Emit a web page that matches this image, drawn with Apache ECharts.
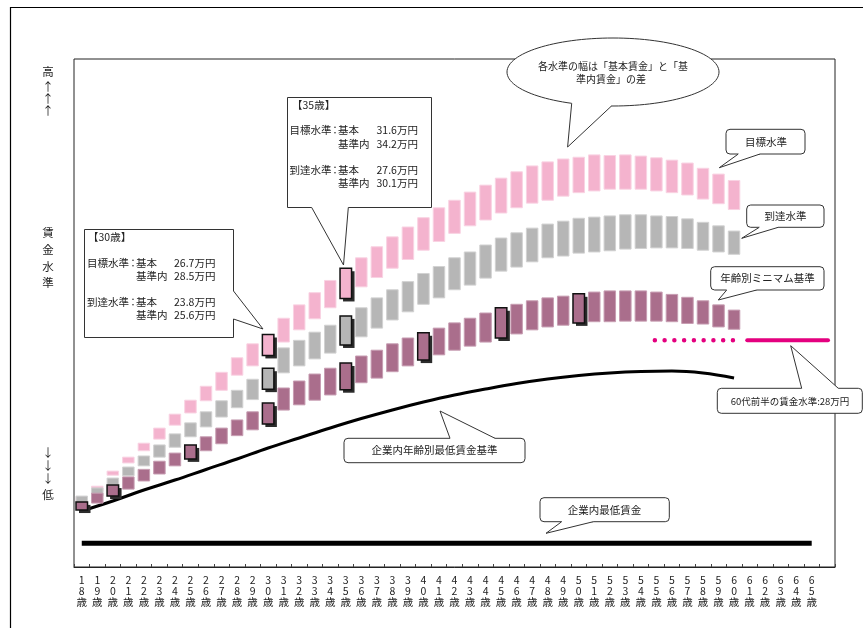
<!DOCTYPE html>
<html>
<head>
<meta charset="utf-8">
<script src="https://cdn.jsdelivr.net/npm/echarts@6/dist/echarts.min.js"></script>
<style>
html, body { margin: 0; padding: 0; background: #fff; }
#chart { width: 863px; height: 628px; }
</style>
</head>
<body>
<div id="chart"></div>
<script>
// Age categories (last slot left blank on purpose)
const categories = ['18歳','19歳','20歳','21歳','22歳','23歳','24歳','25歳','26歳','27歳',
  '28歳','29歳','30歳','31歳','32歳','33歳','34歳','35歳','36歳','37歳','38歳','39歳',
  '40歳','41歳','42歳','43歳','44歳','45歳','46歳','47歳','48歳','49歳','50歳','51歳',
  '52歳','53歳','54歳','55歳','56歳','57歳','58歳','59歳','60歳','61歳','62歳','63歳',
  '64歳','65歳',''];

// 目標水準 (万円): 基本賃金 / 基準内賃金, ages 18-60
const targetBase = [14.0,15.0,16.4,17.45,18.5,19.5,20.7,21.75,22.8,23.7,25.0,25.8,26.7,27.85,
  28.9,29.85,30.8,31.6,32.6,33.4,34.2,34.95,35.75,36.5,37.2,37.85,38.35,38.95,39.4,39.8,
  40.05,40.4,40.7,40.85,41.0,41.0,41.0,40.85,40.7,40.5,40.15,39.75,39.25];
const targetTotal = [14.5,15.45,16.75,17.95,19.15,20.45,21.65,22.85,24.05,25.25,26.5,27.7,28.5,
  29.9,31.05,32.1,33.15,34.2,35.1,36.05,36.9,37.75,38.55,39.4,40.05,40.75,41.35,41.95,42.5,
  43.0,43.35,43.6,43.75,43.95,43.9,43.95,43.85,43.7,43.5,43.25,42.8,42.3,41.75];

// 到達水準 (万円)
const reachBase = [13.9,14.6,15.6,16.35,17.2,17.95,18.8,19.7,20.55,21.4,22.2,22.9,23.8,25.2,
  25.8,26.4,26.9,27.6,28.3,29.05,29.75,30.45,31.1,31.65,32.35,32.75,33.35,33.95,34.3,34.75,
  35.1,35.25,35.5,35.6,35.7,35.85,35.9,35.95,35.95,35.9,35.75,35.6,35.4];
const reachTotal = [14.6,15.3,16.15,17.1,18.05,19.0,19.95,20.9,21.85,22.8,23.7,24.65,25.6,27.35,
  28.0,28.7,29.3,30.1,30.8,31.65,32.35,33.05,33.75,34.35,35.1,35.6,36.2,36.8,37.25,37.65,
  38.0,38.25,38.5,38.6,38.7,38.8,38.8,38.7,38.65,38.45,38.15,37.85,37.4];

// 年齢別ミニマム基準 (万円)
const minimumBase = [13.4,14.0,14.6,15.2,15.9,16.5,17.2,17.8,18.5,19.1,19.8,20.3,20.8,22.0,
  22.45,22.85,23.3,23.75,24.35,24.75,25.3,25.8,26.3,26.75,27.15,27.5,27.85,28.2,28.55,28.9,
  29.15,29.3,29.5,29.6,29.6,29.65,29.65,29.65,29.6,29.45,29.4,29.15,28.95];
const minimumTotal = [14.1,14.85,15.55,16.25,16.9,17.6,18.3,19.0,19.7,20.45,21.15,21.85,22.6,
  23.9,24.5,25.1,25.6,26.05,26.65,27.15,27.7,28.2,28.65,29.05,29.5,29.9,30.35,30.8,31.1,
  31.4,31.65,31.8,32.0,32.15,32.25,32.25,32.25,32.15,31.95,31.7,31.4,31.05,30.6];

// Bars drawn with an outline and drop shadow
const targetMarked = ['30歳','35歳'];
const reachMarked = ['30歳','35歳'];
const minimumMarked = ['18歳','20歳','25歳','30歳','35歳','40歳','45歳','50歳'];

// 企業内年齢別最低賃金基準 (age, 万円)
const floorAges = [18,20,22,24,26,28,30,32,34,36,38,40,42,44,46,48,50,52,54,56,58,60];
const floorValues = [13.32,14.18,15.12,15.98,16.89,17.79,18.74,19.6,20.46,21.27,22.01,22.69,
  23.3,23.81,24.28,24.67,24.97,25.19,25.32,25.36,25.19,24.76];

// 企業内最低賃金 (万円), from age 18 to 65
const companyMinAges = [18, 65];
const companyMinValue = 10.55;

// 60代前半の賃金水準 28万円: dotted lead-in, then solid
const sixtiesValue = 28;
const sixtiesDottedAges = [54.9, 60.55];
const sixtiesSolidAges = [60.85, 66.05];

const FONT = 'Noto Sans CJK JP';
const PINK = '#F4B3CE', GRAY = '#B6B6B6', MAUVE = '#AA6E8C';

function rangeData(lo, hi) {
  return lo.map((v, i) => [i, v, hi[i]]);
}

function rangeRenderer(fill, edge, marked) {
  return function (params, api) {
    const i = api.value(0);
    const lo = api.coord([i, api.value(1)]);
    const hi = api.coord([i, api.value(2)]);
    const w = 11.5;
    const x = lo[0] - w / 2, y = hi[1], h = lo[1] - hi[1];
    if (marked.indexOf(categories[i]) < 0) {
      return { type: 'rect', shape: { x, y, width: w, height: h },
        style: { fill, stroke: edge, lineWidth: 1 } };
    }
    return { type: 'group', children: [
      { type: 'rect', shape: { x: x + 3, y: y + 3, width: w, height: h }, style: { fill: '#2b2b2b' } },
      { type: 'rect', shape: { x, y, width: w, height: h }, style: { fill, stroke: '#111', lineWidth: 1.5 } }
    ] };
  };
}

// ---- annotation helpers ----
const Z = 100;
function txt(x, y, s, size, align) {
  return { type: 'text', x, y, z: Z + 2,
    style: { text: s, fill: '#222', font: (size || 10.5) + 'px "' + FONT + '"',
      textAlign: align || 'left', textVerticalAlign: 'middle' } };
}
function pointer(b1, b2, tip, inward) {
  const d = inward;
  return [
    { type: 'polygon', z: Z + 1, shape: { points: [[b1[0], b1[1] + d], b1, tip, b2, [b2[0], b2[1] + d]] },
      style: { fill: '#fff', stroke: null } },
    { type: 'polyline', z: Z + 1, shape: { points: [b1, tip, b2] },
      style: { stroke: '#333', lineWidth: 1, fill: null } }
  ];
}
function roundBox(x, y, w, h, b1, b2, tip, inward) {
  return [
    { type: 'rect', z: Z, shape: { x, y, width: w, height: h, r: 4 },
      style: { fill: '#fff', stroke: '#333', lineWidth: 1 } }
  ].concat(pointer(b1, b2, tip, inward));
}

const graphics = [];
// outer frame
graphics.push({ type: 'line', z: Z, shape: { x1: 10.5, y1: 7, x2: 10.5, y2: 628 }, style: { stroke: '#000', lineWidth: 1.2 } });
graphics.push({ type: 'line', z: Z, shape: { x1: 10, y1: 7.5, x2: 863, y2: 7.5 }, style: { stroke: '#000', lineWidth: 1.2 } });

// vertical axis caption
[['高', 72], ['↑', 87], ['↑', 99], ['↑', 111],
 ['賃', 233], ['金', 250], ['水', 267], ['準', 283],
 ['↓', 453], ['↓', 466], ['↓', 479], ['低', 495]].forEach(([s, y]) => {
  graphics.push(txt(48, y, s, 11.5, 'center'));
});

// 【30歳】 callout
graphics.push({ type: 'polygon', z: Z, shape: { points: [[84.5, 229.5], [233.5, 229.5], [233.5, 291], [263, 329],
  [233.5, 319], [233.5, 337.5], [84.5, 337.5]] }, style: { fill: '#fff', stroke: '#333', lineWidth: 1 } });
graphics.push(txt(88, 237, '【30歳】'));
graphics.push(txt(87, 263, '目標水準'), txt(133, 263, '：', 10.5, 'center'), txt(136, 263, '基本'), txt(174, 263, '26.7万円'));
graphics.push(txt(136, 276.5, '基準内'), txt(174, 276.5, '28.5万円'));
graphics.push(txt(87, 302, '到達水準'), txt(133, 302, '：', 10.5, 'center'), txt(136, 302, '基本'), txt(174, 302, '23.8万円'));
graphics.push(txt(136, 315.5, '基準内'), txt(174, 315.5, '25.6万円'));

// 【35歳】 callout
graphics.push({ type: 'polygon', z: Z, shape: { points: [[287.5, 97.5], [431.5, 97.5], [431.5, 207.5], [348.3, 207.5],
  [343.5, 265], [311.7, 207.5], [287.5, 207.5]] }, style: { fill: '#fff', stroke: '#333', lineWidth: 1 } });
graphics.push(txt(292, 105, '【35歳】'));
graphics.push(txt(289.5, 130.5, '目標水準'), txt(335, 130.5, '：', 10.5, 'center'), txt(338, 130.5, '基本'), txt(376.5, 130.5, '31.6万円'));
graphics.push(txt(338, 144, '基準内'), txt(376.5, 144, '34.2万円'));
graphics.push(txt(289.5, 170, '到達水準'), txt(335, 170, '：', 10.5, 'center'), txt(338, 170, '基本'), txt(376.5, 170, '27.6万円'));
graphics.push(txt(338, 183.5, '基準内'), txt(376.5, 183.5, '30.1万円'));

// speech bubble
graphics.push({ type: 'ellipse', z: Z, shape: { cx: 613, cy: 72, rx: 106, ry: 34 },
  style: { fill: '#fff', stroke: '#333', lineWidth: 1 } });
graphics.push.apply(graphics, pointer([571.7, 103.3], [611.7, 105.8], [567.6, 147], -2));
graphics.push(txt(613, 66, '各水準の幅は「基本賃金」と「基', 10, 'center'));
graphics.push(txt(611, 79.5, '準内賃金」の差', 10, 'center'));

// series labels
graphics.push.apply(graphics, roundBox(726, 129.3, 79, 24.7, [738.3, 154], [760, 154], [719.3, 167.7], -1.5));
graphics.push(txt(766, 142, '目標水準', 10.5, 'center'));
graphics.push.apply(graphics, roundBox(746.7, 205, 77.3, 22.3, [759.3, 227.3], [778.3, 227.3], [741.7, 238.3], -1.5));
graphics.push(txt(785.5, 216.5, '到達水準', 10.5, 'center'));
graphics.push.apply(graphics, roundBox(710.7, 266.7, 113.3, 23.3, [726.7, 290], [756.7, 290], [718.3, 300], -1.5));
graphics.push(txt(767.5, 278.5, '年齢別ミニマム基準', 10.5, 'center'));
graphics.push.apply(graphics, roundBox(717.3, 388.3, 145, 25, [801.7, 388.3], [838.3, 388.3], [790.7, 345.7], 1.5));
graphics.push(txt(790, 401, '60代前半の賃金水準:28万円', 9.5, 'center'));
graphics.push.apply(graphics, roundBox(344, 438.3, 181, 24.4, [450, 438.3], [495, 438.3], [440, 411], 1.5));
graphics.push(txt(434.5, 450.5, '企業内年齢別最低賃金基準', 10.5, 'center'));
graphics.push.apply(graphics, roundBox(540, 497.7, 129.3, 24, [561.7, 521.7], [593.3, 521.7], [546, 533.3], -1.5));
graphics.push(txt(604.5, 509.7, '企業内最低賃金', 10.5, 'center'));

const chart = echarts.init(document.getElementById('chart'), null, { renderer: 'canvas' });
chart.setOption({
  animation: false,
  backgroundColor: '#fff',
  textStyle: { fontFamily: FONT },
  grid: { left: 74, right: 28, top: 59, bottom: 61, show: true, borderColor: '#222', borderWidth: 1, backgroundColor: 'transparent' },
  xAxis: [
    {
      type: 'category', data: categories,
      axisLine: { lineStyle: { color: '#222', width: 1 } },
      axisTick: { show: true, inside: true, length: 3, lineStyle: { color: '#444' } },
      axisLabel: {
        interval: 0, margin: 8, color: '#222', fontSize: 10.5, lineHeight: 10.8, fontFamily: FONT,
        formatter: v => v.split('').join('\n')
      },
      splitLine: { show: false }
    },
    { type: 'value', min: 17.5, max: 66.5, show: false }
  ],
  yAxis: { type: 'value', min: 8.5, max: 52.2, show: false, splitLine: { show: false } },
  series: [
    { type: 'line', name: '企業内年齢別最低賃金基準', xAxisIndex: 1, z: 1, smooth: 0.4, symbol: 'none',
      lineStyle: { color: '#000', width: 3 }, data: floorAges.map((a, i) => [a, floorValues[i]]) },
    { type: 'line', name: '企業内最低賃金', xAxisIndex: 1, z: 1, symbol: 'none',
      lineStyle: { color: '#000', width: 5 }, data: companyMinAges.map(a => [a, companyMinValue]) },
    { type: 'custom', name: '目標水準', renderItem: rangeRenderer(PINK, '#F9D3E3', targetMarked),
      data: rangeData(targetBase, targetTotal), z: 3 },
    { type: 'custom', name: '到達水準', renderItem: rangeRenderer(GRAY, '#D2D2D2', reachMarked),
      data: rangeData(reachBase, reachTotal), z: 4 },
    { type: 'custom', name: '年齢別ミニマム基準', renderItem: rangeRenderer(MAUVE, '#C79DB2', minimumMarked),
      data: rangeData(minimumBase, minimumTotal), z: 5 },
    { type: 'line', name: '60代前半', xAxisIndex: 1, symbol: 'none', z: 6,
      lineStyle: { color: '#E4007F', width: 4.5, type: [0.01, 9.75], cap: 'round' },
      data: sixtiesDottedAges.map(a => [a, sixtiesValue]) },
    { type: 'line', name: '60代前半の賃金水準', xAxisIndex: 1, symbol: 'none', z: 6,
      lineStyle: { color: '#E4007F', width: 4, cap: 'round' },
      data: sixtiesSolidAges.map(a => [a, sixtiesValue]) }
  ],
  graphic: graphics
});
</script>
</body>
</html>
